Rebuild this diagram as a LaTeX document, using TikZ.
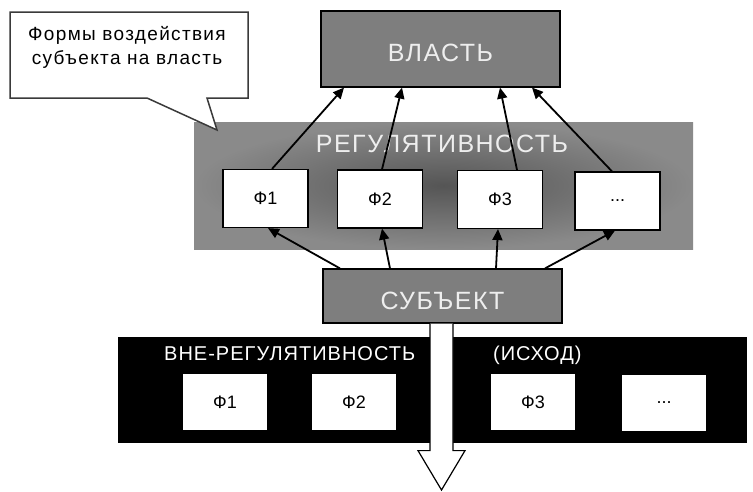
\documentclass[tikz,border=0pt]{standalone}
\usepackage{fontspec}
\setmainfont{Liberation Sans}
\usetikzlibrary{arrows.meta}
\definecolor{boxgray}{HTML}{7E7E7E}
\definecolor{panelin}{HTML}{555555}
\definecolor{panelout}{HTML}{8A8A8A}
\definecolor{titlewhite}{HTML}{EEEEEE}
\definecolor{calloutline}{HTML}{3A3A3A}
\begin{document}
\begin{tikzpicture}[x=1pt,y=-1pt,
  fbox/.style={draw=black,line width=1.2pt,fill=white,minimum width=85pt,minimum height=58pt,inner sep=0pt,font=\fontsize{18}{20}\selectfont},
  lbox/.style={fill=white,minimum width=84pt,minimum height=56pt,inner sep=0pt,font=\fontsize{18}{20}\selectfont},
  gbox/.style={draw=black,line width=1.2pt,fill=boxgray,inner sep=0pt,text=titlewhite,font=\fontsize{25}{30}\selectfont\addfontfeature{LetterSpace=6},text depth=0pt},
  bigtitle/.style={text=titlewhite,font=\fontsize{25}{30}\selectfont\addfontfeature{LetterSpace=6},inner sep=0pt,anchor=base},
  bandtitle/.style={text=white,font=\fontsize{20}{24}\selectfont\addfontfeature{LetterSpace=5},inner sep=0pt,anchor=base west},
  conn/.style={-{Triangle[length=11pt,width=10pt]},line width=1.8pt}
]
\useasboundingbox (0,0) rectangle (753,491);
\fill[white] (0,0) rectangle (753,491);

% regulativity panel
\node[minimum width=499pt,minimum height=127pt,inner sep=0pt,inner color=panelin,outer color=panelout] (panel) at (443.5,185.5) {};
\node[bigtitle] (regtitle) at (442,152) {РЕГУЛЯТИВНОСТЬ};

% callout
\draw[calloutline,line width=1.5pt,fill=white,line join=miter]
  (10,12) -- (248,12) -- (248,98) -- (207,98) -- (217,130) -- (147,98) -- (10,98) -- cycle;
\node[align=center,font=\fontsize{19}{24}\selectfont\addfontfeature{LetterSpace=7},inner sep=0pt] (callouttext) at (127,47) {Формы воздействия\\субъекта на власть};

% power
\node[gbox,minimum width=239pt,minimum height=76pt,text height=24pt] (vl) at (440.5,49) {ВЛАСТЬ};

% forms inside regulativity
\node[fbox] (f1) at (265.5,198.5) {Ф1};
\node[fbox] (f2) at (380,199) {Ф2};
\node[fbox] (f3) at (500,199.5) {Ф3};
\node[fbox] (f4) at (617.5,201) {...};

% subject
\node[gbox,minimum width=239pt,minimum height=54pt,text height=26pt] (subj) at (442.5,296) {СУБЪЕКТ};

% arrows forms -> power
\draw[conn] ([xshift=6.5pt]f1.north) -- ([xshift=-96.5pt]vl.south);
\draw[conn] ([xshift=2pt]f2.north) -- ([xshift=-38.5pt]vl.south);
\draw[conn] ([xshift=17pt]f3.north) -- ([xshift=59.5pt]vl.south);
\draw[conn] ([xshift=-5.5pt]f4.north) -- ([xshift=91.5pt]vl.south);

% arrows subject -> forms
\draw[conn] ([xshift=-102.5pt]subj.north) -- ([xshift=2.5pt]f1.south);
\draw[conn] ([xshift=-52.5pt]subj.north) -- ([xshift=2pt]f2.south);
\draw[conn] ([xshift=53.5pt]subj.north) -- ([xshift=-2pt]f3.south);
\draw[conn] ([xshift=102.5pt]subj.north) -- ([xshift=-2.5pt]f4.south);

% outside regulativity band
\node[fill=black,minimum width=629pt,minimum height=106pt,inner sep=0pt] (band) at (432.5,390) {};
\node[bandtitle] (bandtitle) at (164,360) {ВНЕ-РЕГУЛЯТИВНОСТЬ};
\node[bandtitle] (exodus) at (493,360) {(ИСХОД)};
\node[lbox] (g1) at (225,402) {Ф1};
\node[lbox] (g2) at (354,402) {Ф2};
\node[lbox] (g3) at (533,402) {Ф3};
\node[lbox] (g4) at (664,403) {...};

% big exit arrow
\coordinate (exit) at (441.5,490);
\draw[line width=1.2pt,fill=white,line join=miter]
  ([xshift=-12.5pt]subj.south) -- ++(0,127) -- ++(-12,0) -- (exit)
  -- ([xshift=22.5pt,yshift=-127pt]subj.south) -- ++(-12,0) -- ([xshift=10.5pt]subj.south);
\end{tikzpicture}
\end{document}
